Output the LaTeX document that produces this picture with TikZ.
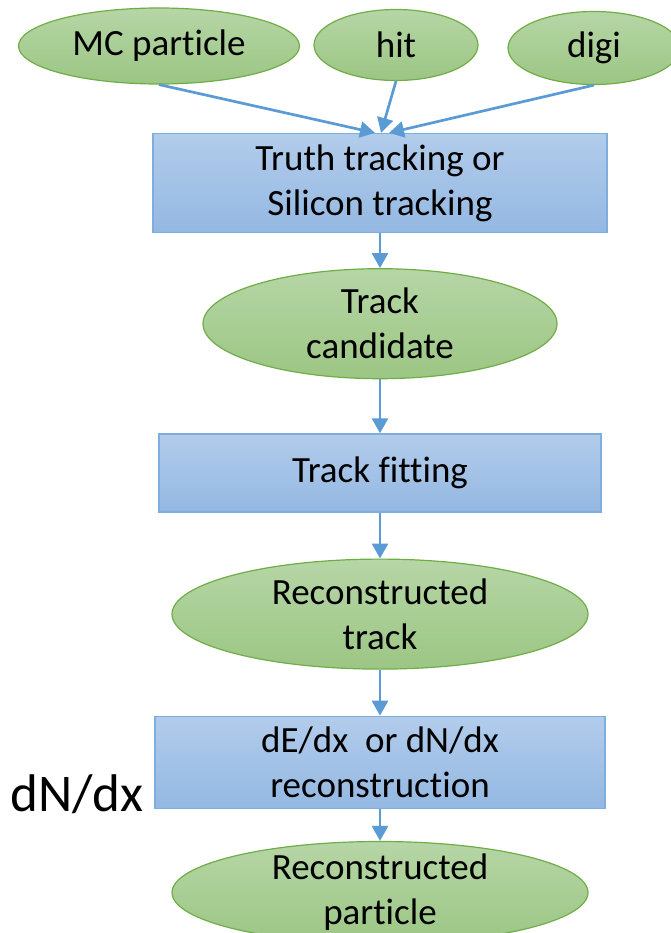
\documentclass[tikz,border=0pt]{standalone}
\usepackage{fontspec}
\setmainfont{Carlito}[Ligatures={NoCommon,NoContextual,NoRare}]
\usetikzlibrary{arrows.meta,positioning,shapes.geometric}
\definecolor{colVertH}{RGB}{182,214,166}
\definecolor{colVertB}{RGB}{156,198,132}
\definecolor{colVertT}{RGB}{112,173,71}
\definecolor{colBleuH}{RGB}{178,204,235}
\definecolor{colBleuB}{RGB}{148,184,226}
\definecolor{colBleuT}{RGB}{126,174,221}
\definecolor{colFleche}{RGB}{91,155,213}

\begin{document}
\begin{tikzpicture}[x=1pt, y=-1pt, font=\fontsize{37}{45}\selectfont,
    dat/.style={ellipse, draw=colVertT, line width=1.2pt, top color=colVertH,
      bottom color=colVertB, align=center, inner sep=0pt, inner ysep=-6pt},
    blk/.style={rectangle, draw=colBleuT, line width=1.2pt, top color=colBleuH,
      bottom color=colBleuB, align=center, inner sep=0pt},
    fl/.style={-{Triangle[length=15pt,width=16pt]}, line width=2.7pt, colFleche}]
    \useasboundingbox (0,0) rectangle (671,933);
    \clip (0,0) rectangle (671,933);
    \node[dat, minimum width=281pt, minimum height=76pt] (mc) at (159,46)
      {MC particle};
    \node[dat, minimum width=164pt, minimum height=71pt] (hit) at (396,45)
      {hit};
    \node[dat, minimum width=172pt, minimum height=73pt] (digi) at (594,48)
      {digi};
    \node[blk, minimum width=454pt, minimum height=99pt] (trk) at (380,183)
      {Truth tracking or\\ Silicon tracking};
    \draw[fl] (mc.south)--([xshift=-5pt]trk.north);
    \draw[fl] (hit.south)--([xshift=1pt]trk.north);
    \draw[fl] (digi.south)--([xshift=9pt]trk.north);
    \node[dat, minimum width=354pt, minimum height=110pt, below=35pt of trk]
      (cand) {Track\\ candidate};
    \node[blk, minimum width=442pt, minimum height=78pt, below=54pt of cand]
      (fit) {Track fitting};
    \node[dat, minimum width=416pt, minimum height=110pt, below=46pt of fit]
      (rtrk) {Reconstructed\\ track};
    \node[blk, minimum width=450pt, minimum height=92pt, below=46pt of rtrk]
      (dedx) {dE/dx~ or dN/dx\\ reconstruction};
    \node[dat, minimum width=416pt, minimum height=102pt, below=32pt of dedx]
      (rpart) {Reconstructed\\ particle};
    \draw[fl] (trk)--(cand); \draw[fl] (cand)--(fit); \draw[fl] (fit)--(rtrk);
    \draw[fl] (rtrk)--(dedx); \draw[fl] (dedx)--(rpart);
    \node[anchor=base, font=\fontsize{53}{60}\selectfont] (lbl) at (77,811)
      {dN/dx};
  \end{tikzpicture}
\end{document}
